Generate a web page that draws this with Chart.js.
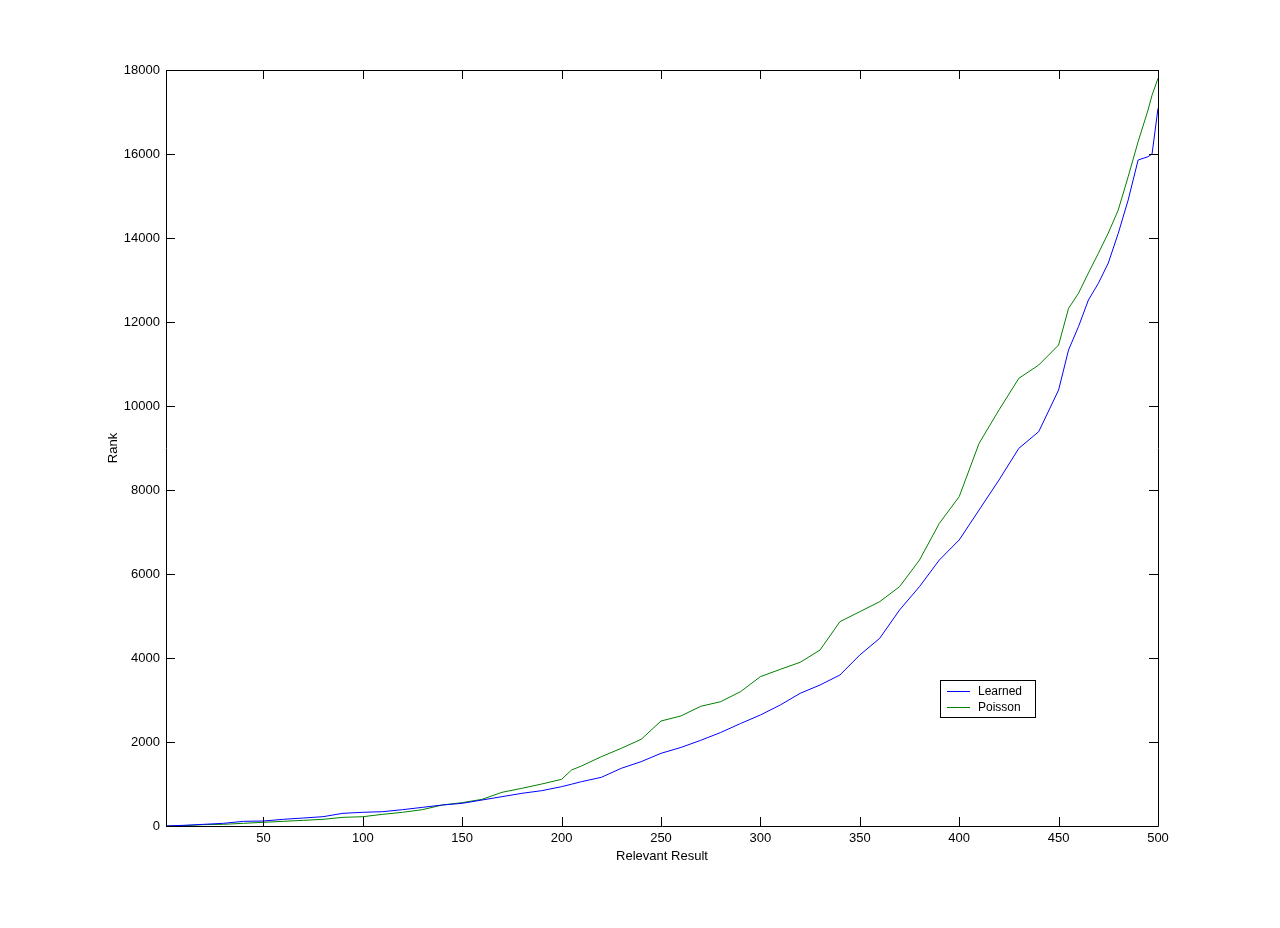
<!DOCTYPE html>
<html>
<head>
<meta charset="utf-8">
<script src="https://cdn.jsdelivr.net/npm/chart.js@4/dist/chart.umd.min.js"></script>
<style>
  body { margin: 0; background: #fff; }
  #wrap { width: 1280px; height: 928px; }
</style>
</head>
<body>
<div id="wrap"><canvas id="myChart" width="1280" height="928"></canvas></div>
<script>
// relevant result positions (x)
const resultIdx = [1,10,20,30,40,50,60,70,80,90,100,110,120,130,140,150,160,170,180,190,200,205,
  210,220,230,240,250,260,270,280,290,300,310,320,330,340,350,360,370,380,390,400,410,420,430,440,450,
  455,460,465,470,475,480,485,490,495,497,500];

const learnedRank = [0,16,40,64,111,119,159,190,222,302,326,341,389,444,500,540,619,698,778,841,937,995,
  1056,1159,1373,1532,1730,1870,2040,2226,2440,2643,2881,3159,3357,3595,4071,4468,5143,5698,6333,6810,7524,8238,8992,9389,10381,
  11333,11889,12524,12921,13405,14111,14905,15857,15936,16000,17087];

const poissonRank = [0,8,32,40,64,88,111,135,159,206,221,278,326,389,500,556,635,802,897,1000,1111,1333,
  1429,1651,1849,2063,2500,2620,2850,2960,3198,3556,3730,3897,4190,4865,5103,5341,5698,6330,7206,7841,9111,9905,10659,10976,11452,
  12325,12683,13167,13635,14119,14667,15460,16293,17048,17400,17802];

const xTicks = [50,100,150,200,250,300,350,400,450,500];
const yTicks = [0,2000,4000,6000,8000,10000,12000,14000,16000,18000];

const seriesNames = ['Learned', 'Poisson'];
const seriesColors = ['#0000ff', '#008000'];

function toPoints(ys) {
  return resultIdx.map((x, i) => ({ x: x, y: ys[i] }));
}

// box round the plot with inward ticks, matlab style
const boxPlugin = {
  id: 'box',
  afterDatasetsDraw(chart) {
    const c = chart.ctx, a = chart.chartArea;
    const sx = chart.scales.x, sy = chart.scales.y;
    const len = 9;
    c.save();
    c.strokeStyle = '#000';
    c.lineWidth = 1;
    c.beginPath();
    c.rect(a.left + 0.5, a.top + 0.5, a.right - a.left, a.bottom - a.top);
    xTicks.forEach(v => {
      const px = Math.round(sx.getPixelForValue(v)) + 0.5;
      c.moveTo(px, a.bottom); c.lineTo(px, a.bottom - len);
      c.moveTo(px, a.top); c.lineTo(px, a.top + len);
    });
    yTicks.forEach(v => {
      const py = Math.round(sy.getPixelForValue(v)) + 0.5;
      c.moveTo(a.left, py); c.lineTo(a.left + len, py);
      c.moveTo(a.right, py); c.lineTo(a.right - len, py);
    });
    c.stroke();
    c.restore();
  }
};

const legendPlugin = {
  id: 'boxLegend',
  afterDraw(chart) {
    const c = chart.ctx;
    const bx = 940, by = 680, bw = 95, bh = 37;
    c.save();
    c.fillStyle = '#fff';
    c.fillRect(bx, by, bw, bh);
    c.strokeStyle = '#000';
    c.lineWidth = 1;
    c.strokeRect(bx + 0.5, by + 0.5, bw, bh);
    c.font = '12px "Liberation Sans", Arial, sans-serif';
    c.textBaseline = 'middle';
    seriesNames.forEach((name, i) => {
      const ly = by + 11 + i * 16;
      c.fillStyle = seriesColors[i];
      c.fillRect(bx + 7, ly, 23, 1);
      c.fillStyle = '#000';
      c.fillText(name, bx + 38, ly + 1);
    });
    c.restore();
  }
};

const ctx = document.getElementById('myChart').getContext('2d');

new Chart(ctx, {
  type: 'line',
  data: {
    datasets: [
      { label: seriesNames[0], data: toPoints(learnedRank), borderColor: seriesColors[0], borderWidth: 1, pointRadius: 0, tension: 0 },
      { label: seriesNames[1], data: toPoints(poissonRank), borderColor: seriesColors[1], borderWidth: 1, pointRadius: 0, tension: 0 }
    ]
  },
  options: {
    responsive: false,
    animation: false,
    layout: { padding: { left: 100, right: 122, top: 70, bottom: 57 } },
    plugins: {
      legend: { display: false },
      tooltip: { enabled: false }
    },
    scales: {
      x: {
        type: 'linear',
        min: 1,
        max: 500,
        afterBuildTicks: s => { s.ticks = xTicks.map(v => ({ value: v })); },
        afterFit: s => { s.height = 45; },
        grid: { display: false, drawTicks: false },
        border: { display: false },
        ticks: { color: '#000', padding: 5, maxRotation: 0, font: { family: '"Liberation Sans", Arial', size: 13 } },
        title: { display: true, text: 'Relevant Result', color: '#000', padding: { top: 2, bottom: 7 },
          font: { family: '"Liberation Sans", Arial', size: 13 } }
      },
      y: {
        min: 0,
        max: 18000,
        afterBuildTicks: s => { s.ticks = yTicks.map(v => ({ value: v })); },
        afterFit: s => { s.width = 66; },
        grid: { display: false, drawTicks: false },
        border: { display: false },
        ticks: { color: '#000', padding: 6, callback: v => String(v), font: { family: '"Liberation Sans", Arial', size: 13 } },
        title: { display: true, text: 'Rank', color: '#000', padding: { top: 6, bottom: 2 },
          font: { family: '"Liberation Sans", Arial', size: 13 } }
      }
    }
  },
  plugins: [boxPlugin, legendPlugin]
});
</script>
</body>
</html>
